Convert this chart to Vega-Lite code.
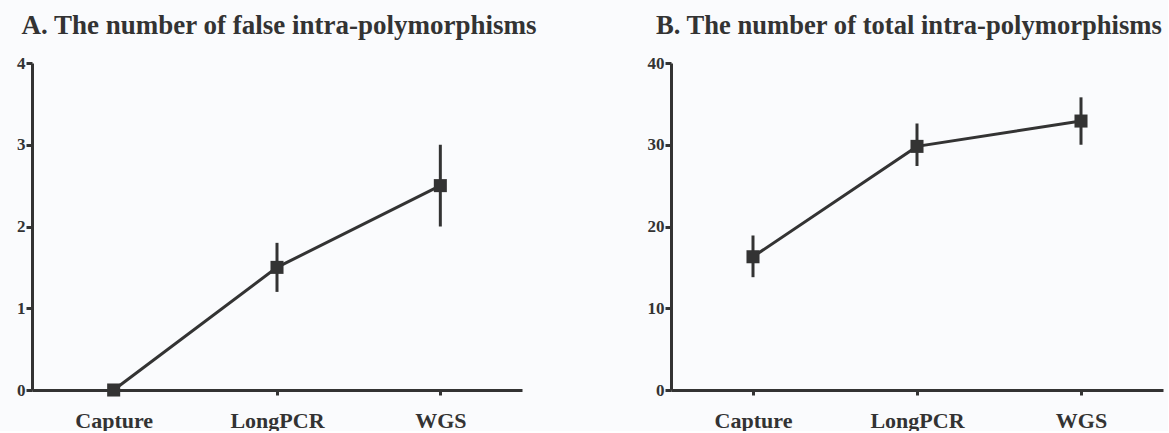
{
  "$schema": "https://vega.github.io/schema/vega-lite/v6.json",
  "background": "#fafbfd",
  "padding": {"left": 16, "top": 12, "right": 5, "bottom": 0},
  "spacing": 109,
  "config": {
    "view": {"stroke": null},
    "font": "Liberation Serif",
    "title": {"anchor": "start", "font": "Liberation Serif", "fontSize": 27, "fontWeight": "bold", "color": "#333333", "offset": 14},
    "axis": {
      "domainColor": "#333333", "domainWidth": 3, "tickColor": "#333333", "tickWidth": 3, "tickSize": 6,
      "labelColor": "#333333", "labelFont": "Liberation Serif", "labelFontWeight": "bold", "grid": false, "title": null
    }
  },
  "hconcat": [
    {
      "title": {"text": "A. The number of false intra-polymorphisms", "dx": 5},
      "width": 490, "height": 327,
      "data": {"values": [
        {"method": "Capture", "mean": 0, "lo": 0, "hi": 0},
        {"method": "LongPCR", "mean": 1.5, "lo": 1.2, "hi": 1.8},
        {"method": "WGS", "mean": 2.5, "lo": 2.0, "hi": 3.0}
      ]},
      "encoding": {
        "x": {"field": "method", "type": "nominal", "sort": ["Capture", "LongPCR", "WGS"], "scale": {"type": "point", "padding": 0.5},
              "axis": {"labelAngle": 0, "labelFontSize": 22, "labelPadding": 15, "tickSize": 5}},
        "y": {"field": "mean", "type": "quantitative", "scale": {"domain": [0, 4], "nice": false},
              "axis": {"values": [0, 1, 2, 3, 4], "labelFontSize": 17, "labelPadding": 1}}
      },
      "layer": [
        {"mark": {"type": "rule", "color": "#333333", "strokeWidth": 3}, "encoding": {"y": {"field": "lo", "type": "quantitative"}, "y2": {"field": "hi"}}},
        {"mark": {"type": "line", "color": "#333333", "strokeWidth": 3}},
        {"mark": {"type": "point", "shape": "square", "filled": true, "size": 170, "opacity": 1, "color": "#333333"}}
      ]
    },
    {
      "title": {"text": "B. The number of total intra-polymorphisms", "dx": 9, "fontSize": 26.6},
      "width": 492, "height": 327,
      "data": {"values": [
        {"method": "Capture", "mean": 16.3, "lo": 13.8, "hi": 18.9},
        {"method": "LongPCR", "mean": 29.8, "lo": 27.4, "hi": 32.6},
        {"method": "WGS", "mean": 32.9, "lo": 30.0, "hi": 35.8}
      ]},
      "encoding": {
        "x": {"field": "method", "type": "nominal", "sort": ["Capture", "LongPCR", "WGS"], "scale": {"type": "point", "padding": 0.5},
              "axis": {"labelAngle": 0, "labelFontSize": 22, "labelPadding": 15, "tickSize": 5}},
        "y": {"field": "mean", "type": "quantitative", "scale": {"domain": [0, 40], "nice": false},
              "axis": {"values": [0, 10, 20, 30, 40], "labelFontSize": 17, "labelPadding": 1}}
      },
      "layer": [
        {"mark": {"type": "rule", "color": "#333333", "strokeWidth": 3}, "encoding": {"y": {"field": "lo", "type": "quantitative"}, "y2": {"field": "hi"}}},
        {"mark": {"type": "line", "color": "#333333", "strokeWidth": 3}},
        {"mark": {"type": "point", "shape": "square", "filled": true, "size": 170, "opacity": 1, "color": "#333333"}}
      ]
    }
  ]
}
